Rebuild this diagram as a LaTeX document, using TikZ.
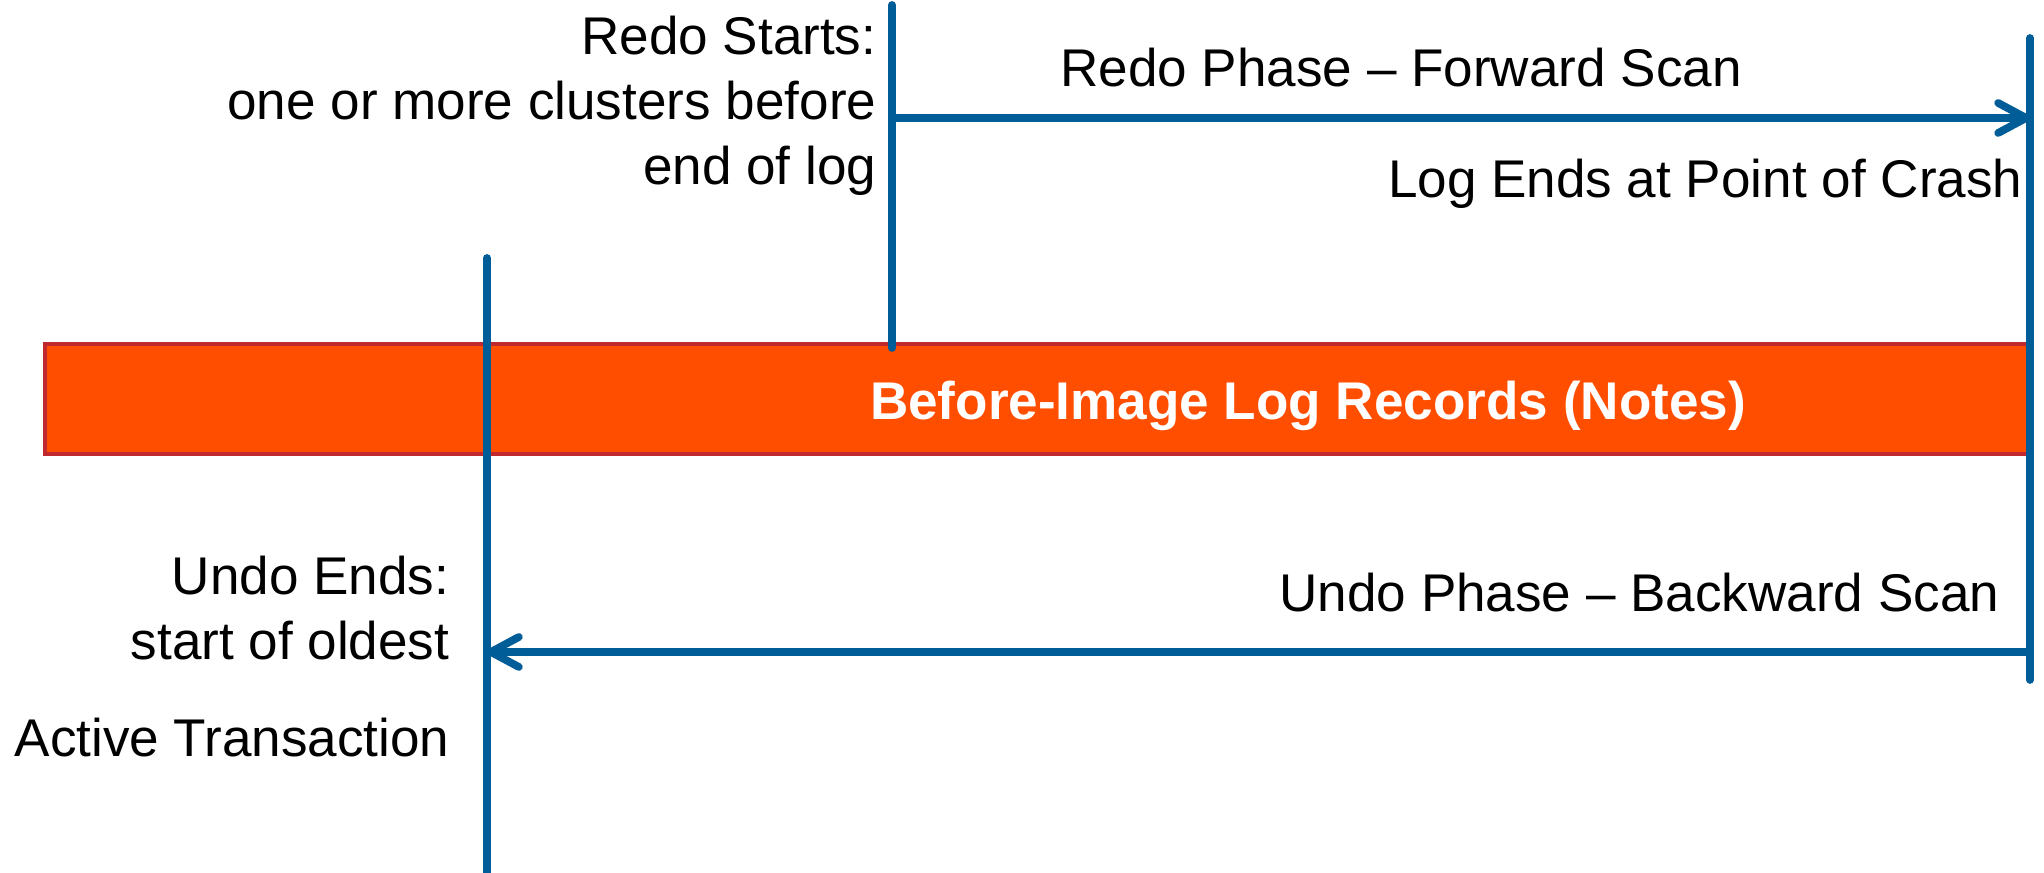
\documentclass[tikz,border=0pt]{standalone}
\usepackage{fontspec}
\setmainfont{Liberation Sans}
\usepackage{xcolor}
\usetikzlibrary{positioning,arrows.meta}

\definecolor{logblue}{RGB}{0,93,151}
\definecolor{logorange}{RGB}{255,78,0}
\definecolor{logred}{RGB}{192,41,46}

\begin{document}
\begin{tikzpicture}[
  every node/.style={font=\fontsize{15.1}{18.5}\selectfont, inner sep=0pt},
  marker/.style={draw=logblue, line width=2.2pt, line cap=round},
  arr/.style={marker, -{Straight Barb[round, length=2.8mm, width=3.0mm]}},
  logbar/.style={draw=logred, fill=logorange, line width=1pt,
    minimum width=19.84cm, minimum height=1.1cm},
  note/.style={align=right}
]
  \useasboundingbox (0,0) rectangle (20.44,8.73);

  % Log records
  \node[logbar, anchor=south west] (bar) at (0.43,4.17) {};
  \node[anchor=base, text=white, font=\fontsize{15.1}{18.5}\selectfont\bfseries]
    (bartext) at (13.08,4.53) {Before-Image Log Records (Notes)};

  % Marker lines
  \coordinate (redotop) at (8.92,8.68);
  \coordinate (redobot) at (8.92,5.25);
  \coordinate (crashtop) at (20.30,8.35);
  \coordinate (crashbot) at (20.30,1.93);
  \coordinate (undotop) at (4.87,6.15);
  \coordinate (undobot) at (4.87,0);
  \draw[marker] (redotop) -- (redobot);
  \draw[marker] (crashtop) -- (crashbot);
  \draw[marker] (undotop) -- (undobot);

  % Scans
  \coordinate (redofrom) at (8.92,7.55);
  \coordinate (redoto) at (20.30,7.55);
  \coordinate (undofrom) at (20.30,2.21);
  \coordinate (undoto) at (4.87,2.21);
  \draw[arr] (redofrom) -- (redoto);
  \draw[arr] (undofrom) -- (undoto);

  % Labels
  \node[note, anchor=north east] (redostart) at (8.77,8.58)
    {Redo Starts:\\one or more clusters before\\end of log};
  \node[anchor=base] (redophase) at (14.01,7.86) {Redo Phase – Forward Scan};
  \node[anchor=base east] (logend) at (20.23,6.75) {Log Ends at Point of Crash};
  \node[anchor=base east] (undophase) at (20.00,2.61) {Undo Phase – Backward Scan};
  \node[note, anchor=north east] (undoend) at (4.50,3.175)
    {Undo Ends:\\start of oldest\\[0.32cm]Active Transaction};
\end{tikzpicture}
\end{document}
